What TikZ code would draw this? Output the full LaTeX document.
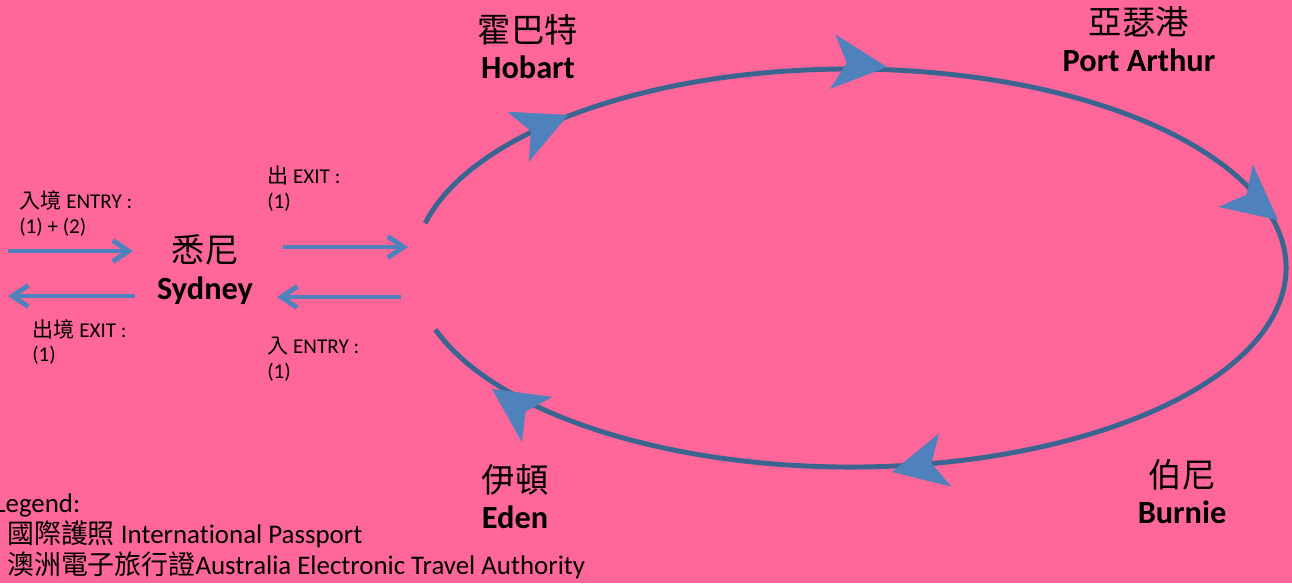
\documentclass[tikz,border=0pt]{standalone}
\usepackage{fontspec}
\setmainfont{Carlito}[Ligatures=NoCommon]
\newfontfamily\cjk{Noto Sans CJK TC}
\usetikzlibrary{arrows.meta}
\definecolor{bgpink}{HTML}{FF6699}
\definecolor{arrowblue}{HTML}{4F81BD}
\definecolor{tourblue}{HTML}{3A6590}

\begin{document}
\begin{tikzpicture}[x=0.02cm,y=0.02cm,
    townzh/.style={font=\fontsize{19}{21}\selectfont\cjk},
    townen/.style={font=\fontsize{18.4}{21}\selectfont\bfseries, anchor=base},
    note/.style={font=\fontsize{12}{14}\selectfont, anchor=base west, inner sep=0pt},
    legendtext/.style={font=\fontsize{15.3}{17}\selectfont, anchor=base west, inner sep=0pt},
    flow/.style={draw=arrowblue, line width=2.8pt, -{Straight Barb[length=9pt,width=12pt]}},
    tourline/.style={draw=tourblue, line width=2.8pt},
    tourhead/.style={draw=tourblue, line width=0.4pt,
        -{Stealth[length=31pt,width=31pt,inset=8pt,color=arrowblue]}}
    ]
    \fill[bgpink] (0,0) rectangle (1292,-583);
    \useasboundingbox (0,0) rectangle (1292,-583);

    % Tour loop
    \draw[tourline] ({850+436*cos(167)},{-268+199*sin(167)})
        arc[start angle=167, end angle=-162, x radius=436, y radius=199];
    % heads: tip x, tip y, heading
    \foreach \x/\y/\d in {568/-115/23.5, 887/-67/-5.6, 1278/-220/-39,
                          892/-472/192.8, 492/-389/146}
        \draw[tourhead] (\x,\y) ++(\d+180:4) -- (\x,\y);

    % Towns
    \node[townzh] (sydneyzh) at (205,-250) {悉尼};
    \node[townen] (sydney) at (205,-299) {Sydney};
    \node[townzh] (hobartzh) at (528,-30) {霍巴特};
    \node[townen] (hobart) at (528,-78) {Hobart};
    \node[townzh] (arthurzh) at (1139,-22) {亞瑟港};
    \node[townen] (arthur) at (1139,-71) {Port Arthur};
    \node[townzh] (burniezh) at (1182,-475) {伯尼};
    \node[townen] (burnie) at (1182,-523) {Burnie};
    \node[townzh] (edenzh) at (515,-480) {伊頓};
    \node[townen] (eden) at (515,-528) {Eden};

    % Border crossings
    \coordinate (entryA) at (8,-251);
    \coordinate (entryB) at (133,-251);
    \coordinate (exitA) at (135,-296);
    \coordinate (exitB) at (8,-296);
    \coordinate (outA) at (283,-247);
    \coordinate (outB) at (408,-247);
    \coordinate (backA) at (401,-297);
    \coordinate (backB) at (277,-297);
    \draw[flow] (entryA) -- (entryB);
    \draw[flow] (exitA) -- (exitB);
    \draw[flow] (outA) -- (outB);
    \draw[flow] (backA) -- (backB);

    \node[note] (entrylbl) at (19,-208) {{\cjk 入境} ENTRY :};
    \node[note] (entrydoc) at (19,-233) {(1) + (2)};
    \node[note] (exitlbl) at (32,-337) {{\cjk 出境} EXIT :};
    \node[note] (exitdoc) at (32,-361) {(1)};
    \node[note] (outlbl) at (267,-183) {{\cjk 出} EXIT :};
    \node[note] (outdoc) at (267,-208) {(1)};
    \node[note] (backlbl) at (267,-353) {{\cjk 入} ENTRY :};
    \node[note] (backdoc) at (267,-378) {(1)};

    % Legend
    \node[legendtext] (legendtitle) at (-6,-512) {Legend:};
    \node[legendtext] (passport) at (7,-543) {{\cjk 國際護照} International Passport};
    \node[legendtext] (eta) at (7,-574) {{\cjk 澳洲電子旅行證}Australia Electronic Travel Authority};
\end{tikzpicture}
\end{document}
